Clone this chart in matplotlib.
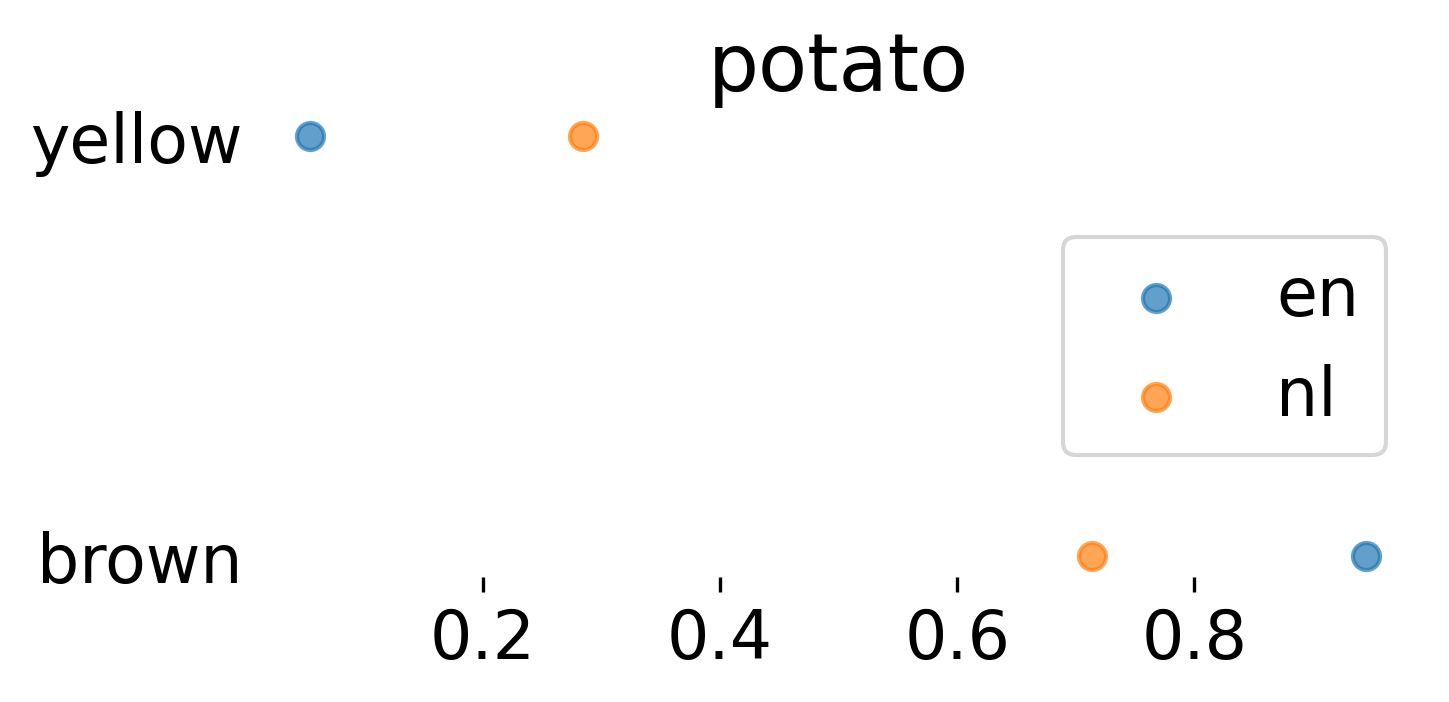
import matplotlib.pyplot as plt

# word colour ratings for "potato"
colours = ["yellow", "brown"]
en_vals = [0.054, 0.945]
nl_vals = [0.284, 0.714]

fig = plt.figure(figsize=(4.83, 2.343), dpi=300)
ax = fig.add_axes([0.1774, 0.1778, 0.8019, 0.6572])

ax.scatter(en_vals, colours, s=42, alpha=0.7, color="tab:blue", label="en")
ax.scatter(nl_vals, colours, s=42, alpha=0.7, color="tab:orange", label="nl")
ax.invert_yaxis()

ax.set_title("potato", fontsize=19.3)
for s in ax.spines.values():
    s.set_visible(False)
ax.tick_params(axis="y", length=0, labelsize=16)
ax.tick_params(axis="x", labelsize=16)
ax.legend(loc="center right", fontsize=16)

fig.savefig("out.png", dpi=300)
